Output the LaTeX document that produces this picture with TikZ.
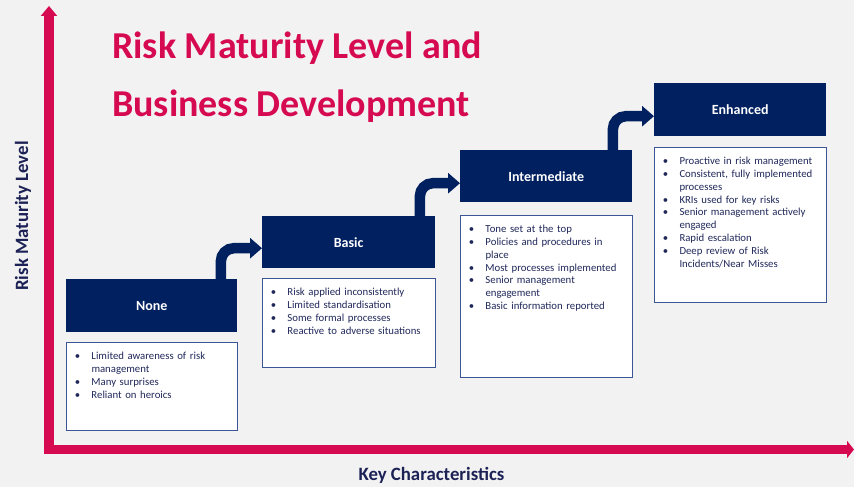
\documentclass[tikz,border=0pt]{standalone}
\usepackage{fontspec}
\setmainfont{Carlito}
\usetikzlibrary{arrows.meta,calc}
\definecolor{bgc}{RGB}{242,242,242}
\definecolor{navy}{RGB}{0,32,96}
\definecolor{crim}{RGB}{214,10,80}
\definecolor{bodytxt}{RGB}{32,40,90}
\definecolor{boxline}{RGB}{60,85,150}
\definecolor{axislbl}{RGB}{28,34,86}
\newcommand{\bitem}[1]{\par\noindent\hangindent=19.3pt\hangafter=1\makebox[19.3pt][l]{\hspace{2.6pt}\textbullet}\rule{0pt}{8pt}#1\par}
\tikzset{
  hdr/.style={anchor=north west, fill=navy, text=white, font=\fontsize{14}{16}\selectfont\bfseries, minimum width=172pt, minimum height=53pt, inner sep=0pt},
  bx/.style={anchor=north west, fill=white, draw=boxline, line width=0.8pt, minimum width=172pt, inner sep=0pt},
  btext/.style={anchor=north west, inner sep=0pt, text width=166pt, font=\fontsize{10.75}{12.95}\selectfont, text=bodytxt},
  flow/.style={navy, line width=10.5pt, rounded corners=13pt, -{Triangle[length=12pt,width=20pt]}},
  axis/.style={crim, line width=9.5pt, line join=miter},
  axlabel/.style={font=\fontsize{18.8}{20}\selectfont\bfseries, text=axislbl, inner sep=0pt},
  ttl/.style={font=\fontsize{38}{40}\selectfont\bfseries, text=crim, inner sep=0pt, anchor=base west}
}
\begin{document}
\begin{tikzpicture}[x=1pt,y=-1pt]
\fill[bgc] (0,0) rectangle (854,487);
\useasboundingbox (0,0) rectangle (854,487);
% title
\node[ttl] (t1) at (112,59) {Risk Maturity Level and};
\node[ttl] (t2) at (112,116.5) {Business Development};
% axes
\coordinate (ytip) at (49,6);
\coordinate (orig) at (49,449.5);
\coordinate (xtip) at (854,449.5);
\draw[axis, {Triangle[length=10pt,width=16pt]}-{Triangle[length=7pt,width=17pt]}] (ytip) -- (orig) -- (xtip);
\node[axlabel, anchor=base] (xlab) at (431.5,480) {Key Characteristics};
\node[axlabel, rotate=90, anchor=base] (ylab) at (28,216) {Risk Maturity Level};
% headers
\node[hdr, minimum width=171pt] (noneH) at (66,279) {None};
\node[hdr, minimum width=173pt, minimum height=52pt] (basicH) at (262,216) {Basic};
\node[hdr, minimum height=52pt] (interH) at (460,150) {Intermediate};
\node[hdr] (enhH) at (654,83) {Enhanced};
% flow arrows
\draw[flow] ($(noneH.north east)+(-16.5,0)$) |- ($(basicH.west)+(0,6)$);
\draw[flow] ($(basicH.north east)+(-15.5,0)$) |- ($(interH.west)+(0,7)$);
\draw[flow] ($(interH.north east)+(-19.5,0)$) |- ($(enhH.west)+(0,6.5)$);
% boxes
\node[bx, minimum width=171pt, minimum height=88pt] (noneB) at (66,342) {};
\node[bx, minimum width=173pt, minimum height=89pt] (basicB) at (262,278) {};
\node[bx, minimum height=162pt] (interB) at (460,215) {};
\node[bx, minimum height=155pt] (enhB) at (654,147) {};
% texts
\node[btext] (noneT) at ($(noneB.north west)+(6,4)$) {\raggedright\parskip=0pt\bitem{Limited awareness of risk\newline management}\bitem{Many surprises}\bitem{Reliant on heroics}};
\node[btext] (basicT) at ($(basicB.north west)+(6,4)$) {\raggedright\parskip=0pt\bitem{Risk applied inconsistently}\bitem{Limited standardisation}\bitem{Some formal processes}\bitem{Reactive to adverse situations}};
\node[btext] (interT) at ($(interB.north west)+(6,4)$) {\raggedright\parskip=0pt\bitem{Tone set at the top}\bitem{Policies and procedures in\newline place}\bitem{Most processes implemented}\bitem{Senior management\newline engagement}\bitem{Basic information reported}};
\node[btext] (enhT) at ($(enhB.north west)+(6,4)$) {\raggedright\parskip=0pt\bitem{Proactive in risk management}\bitem{Consistent, fully implemented\newline processes}\bitem{KRIs used for key risks}\bitem{Senior management actively\newline engaged}\bitem{Rapid escalation}\bitem{Deep review of Risk\newline Incidents/Near Misses}};
\end{tikzpicture}
\end{document}
